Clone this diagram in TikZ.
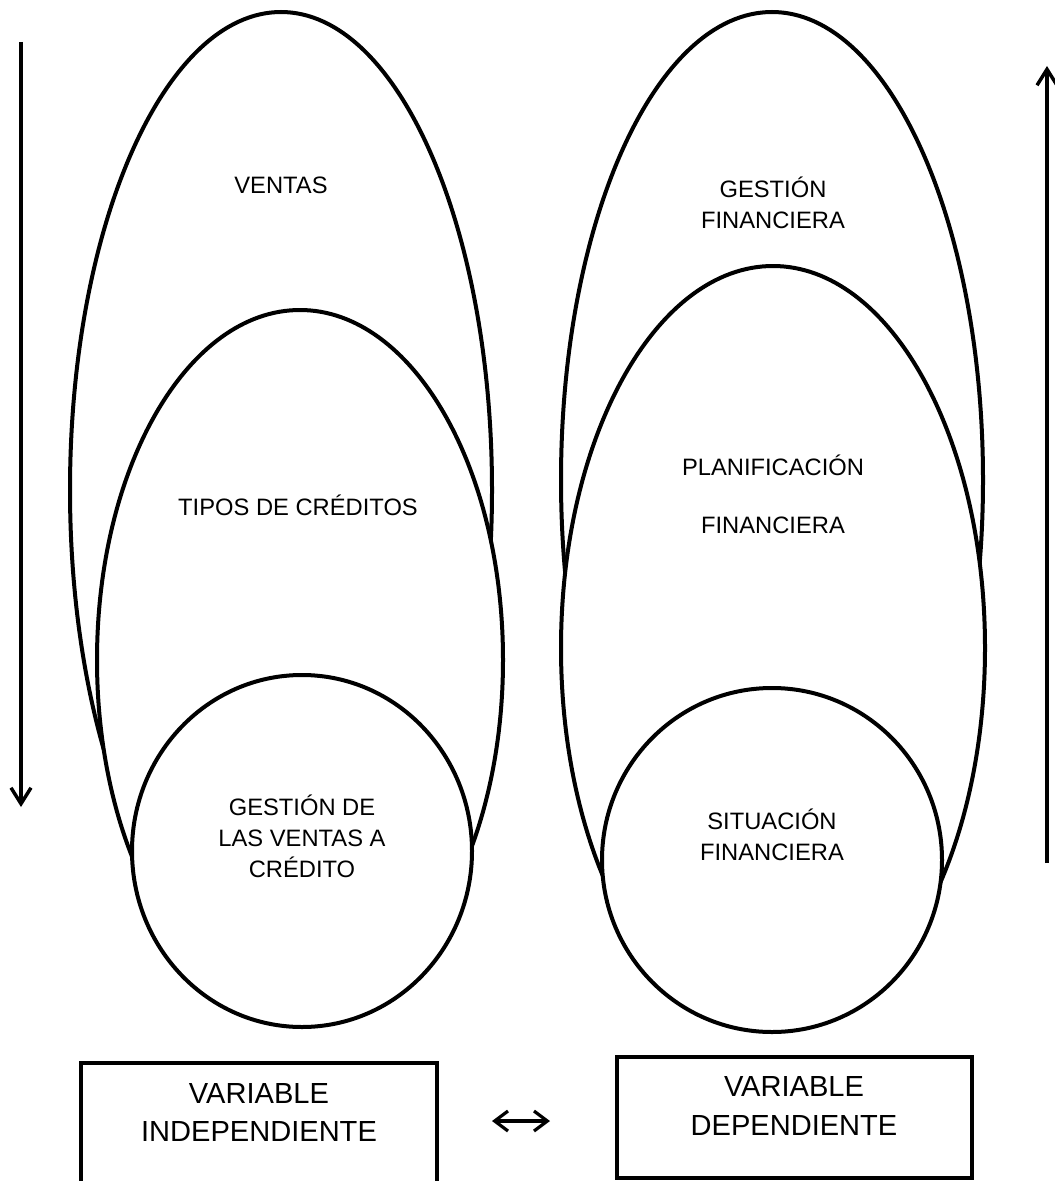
\documentclass[tikz,border=0pt]{standalone}
\usepackage{fontspec}
\setmainfont{Liberation Sans}
\usetikzlibrary{shapes.geometric,arrows.meta}
\begin{document}
\begin{tikzpicture}[x=0.75pt,y=-0.75pt,
  shapeline/.style={draw=black,line width=3pt,fill=white,inner sep=0pt,outer sep=0pt},
  oval/.style={shapeline,ellipse},
  lbl/.style={font=\fontsize{17.8}{23.2}\selectfont,align=center,inner sep=0pt},
  boxlbl/.style={font=\fontsize{21.8}{29.2}\selectfont,align=center,inner sep=0pt},
  varbox/.style={draw=black,line width=3.2pt,rectangle,inner sep=0pt,outer sep=0pt},
  flow/.style={line width=2.6pt,-{Straight Barb[length=12pt,width=15pt]}},
  both/.style={line width=2.4pt,{Straight Barb[length=10pt,width=15pt]}-{Straight Barb[length=10pt,width=15pt]}},
]
\useasboundingbox (0,0) rectangle (1055,1181);
\clip (0,0) rectangle (1055,1181);
% left group
\node[oval,minimum width=316.5pt,minimum height=717pt] (ventas) at (281,490) {};
\node[oval,minimum width=304.5pt,minimum height=525pt] (tipos) at (300,660) {};
\node[oval,minimum width=255pt,minimum height=264pt] (gvc) at (302,851) {};
% right group
\node[oval,minimum width=316.5pt,minimum height=702pt] (gfin) at (772,480) {};
\node[oval,minimum width=318pt,minimum height=573pt] (plan) at (773,648) {};
\node[oval,minimum width=255pt,minimum height=258pt] (sit) at (772,860) {};
% labels
\node[lbl] (tventas) at (281,185) {VENTAS};
\node[lbl] (ttipos) at (298,505) {TIPOS DE CRÉDITOS};
\node[lbl] (tgvc) at (302,836) {GESTIÓN DE\\LAS VENTAS A\\CRÉDITO};
\node[lbl] (tgfin) at (773,203) {GESTIÓN\\FINANCIERA};
\node[lbl,font=\fontsize{17.8}{43.5}\selectfont] (tplan) at (773,494) {PLANIFICACIÓN\\FINANCIERA};
\node[lbl] (tsit) at (772,835) {SITUACIÓN\\FINANCIERA};
% boxes
\node[varbox,minimum width=267pt,minimum height=125.25pt] (vi) at (259,1146.5) {};
\node[varbox,minimum width=266.25pt,minimum height=90.75pt] (vd) at (794.5,1117.5) {};
\node[boxlbl] (tvi) at (259,1112.5) {VARIABLE\\INDEPENDIENTE};
\node[boxlbl] (tvd) at (794,1106) {VARIABLE\\DEPENDIENTE};
% arrows
\coordinate (la) at (21,42);
\coordinate (lb) at (21,807);
\coordinate (ra) at (1047,863);
\coordinate (rb) at (1047,66);
\coordinate (da) at (492,1121);
\coordinate (db) at (550,1121);
\draw[flow] (la) -- (lb);
\draw[flow] (ra) -- (rb);
\draw[both] (da) -- (db);
\end{tikzpicture}
\end{document}
